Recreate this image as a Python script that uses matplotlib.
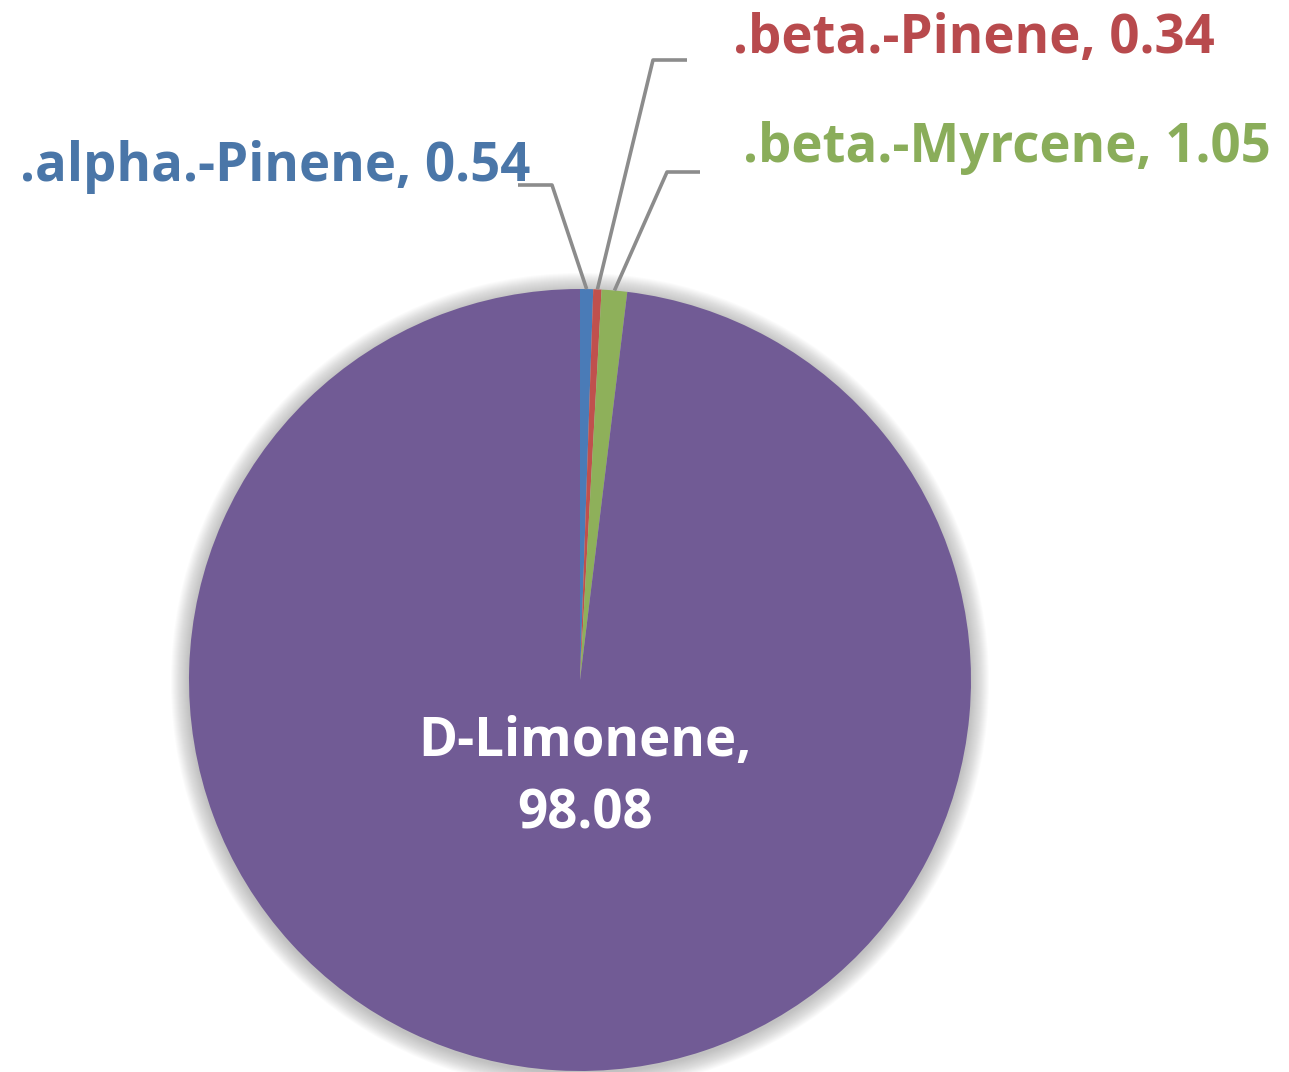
import numpy as np
import matplotlib
matplotlib.use('Agg')
import matplotlib.pyplot as plt
import matplotlib.patches as patches

plt.rcParams['font.family'] = ['Open Sans', 'DejaVu Sans']

# 성분 / 함량(%)
names = ['.alpha.-Pinene', '.beta.-Pinene', '.beta.-Myrcene', 'D-Limonene']
values = [0.54, 0.34, 1.05, 98.08]
colors = ['#4a7bb7', '#c0504d', '#8eb05a', '#715b95']
label_colors = ['#4a76a8', '#b84a4d', '#8aad5a', 'white']

W, H = 1289, 1072
CX, CY, R = 580, H - 680, 391

fig = plt.figure(figsize=(W / 100, H / 100), dpi=100)
ax = fig.add_axes([0, 0, 1, 1])

# soft shadow
for k in range(18, 0, -1):
    ax.add_patch(patches.Circle((CX, CY - 2), R + k, color='0.5',
                                alpha=0.03, lw=0, zorder=1))

wedges, _ = ax.pie(values, colors=colors, startangle=90, counterclock=False,
                   center=(CX, CY), radius=R, frame=True,
                   wedgeprops=dict(linewidth=0, zorder=2))
ax.set_xlim(0, W)
ax.set_ylim(0, H)
ax.set_aspect('equal')
ax.axis('off')

# 작은 조각 라벨: (꺾임점, 수평선 끝, 텍스트 위치, 정렬)
layout = [
    ((552, 185), (518, 185), (530, 167), 'right'),
    ((653, 60), (687, 60), (733, 39), 'left'),
    ((667, 172), (700, 172), (743, 148), 'left'),
]
for i, (bend, end, tpos, ha) in enumerate(layout):
    w = wedges[i]
    ang = np.deg2rad((w.theta1 + w.theta2) / 2)
    x0, y0 = CX + R * np.cos(ang), CY + R * np.sin(ang)
    xs = [x0, bend[0], end[0]]
    ys = [y0, H - bend[1], H - end[1]]
    ax.plot(xs, ys, color='#8c8c8c', lw=2.6, zorder=3, solid_capstyle='butt')
    ax.text(tpos[0], H - tpos[1], f'{names[i]}, {values[i]:.2f}', ha=ha, va='center',
            fontsize=38, fontweight='bold', color=label_colors[i], zorder=4)

ax.text(585, H - 778, f'{names[3]},\n{values[3]:.2f}', ha='center', va='center',
        fontsize=38, fontweight='bold', color='white', linespacing=1.45, zorder=4)

fig.savefig('out.png', dpi=100, facecolor='white')
